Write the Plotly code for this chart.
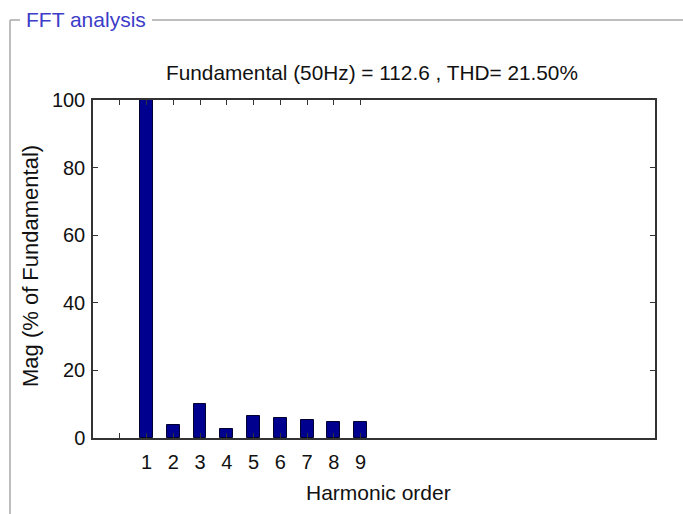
import plotly.graph_objects as go

# Data
harmonic_order = [1, 2, 3, 4, 5, 6, 7, 8, 9]
magnitude_pct = [100, 3.8, 10.0, 2.8, 6.5, 5.9, 5.4, 4.7, 4.7]
x_tick_vals = [0, 1, 2, 3, 4, 5, 6, 7, 8, 9]
x_tick_text = ["", "1", "2", "3", "4", "5", "6", "7", "8", "9"]
y_tick_vals = [0, 20, 40, 60, 80, 100]

W, H = 683, 514
L, R, T, B = 93, 655, 100, 438
FONT = "Liberation Sans, Arial, sans-serif"
TXT = "#111111"

def px(x):
    return (x - L) / (R - L)

def py(y):
    return (B - y) / (B - T)

fig = go.Figure()
fig.add_trace(go.Bar(
    x=harmonic_order, y=magnitude_pct, width=0.48,
    marker=dict(color="#00008f", line=dict(color="#000030", width=1)),
))

fig.update_layout(
    width=W, height=H,
    margin=dict(l=L, r=W - R, t=T, b=H - B, pad=0),
    paper_bgcolor="white", plot_bgcolor="white",
    showlegend=False, bargap=0,
    font=dict(family=FONT, color=TXT),
)
fig.update_xaxes(
    range=[-1, 20], tickmode="array", tickvals=x_tick_vals, ticktext=x_tick_text,
    ticks="inside", ticklen=5, tickcolor="#333", showline=True, linecolor="#333",
    linewidth=1.5, mirror="ticks", showgrid=False, zeroline=False,
    tickfont=dict(size=20, family=FONT, color=TXT), ticklabelstandoff=5,
)
fig.update_yaxes(
    range=[0, 100], tickmode="array", tickvals=y_tick_vals,
    ticks="inside", ticklen=5, tickcolor="#333", showline=True, linecolor="#333",
    linewidth=1.5, mirror="ticks", showgrid=False, zeroline=False,
    tickfont=dict(size=20, family=FONT, color=TXT), ticklabelstandoff=2,
)

ann = [
    dict(text="Fundamental (50Hz) = 112.6 , THD= 21.50%", x=px(372), y=py(72),
         font=dict(size=20.8, family=FONT, color=TXT)),
    dict(text="Harmonic order", x=px(378), y=py(492),
         font=dict(size=21, family=FONT, color=TXT)),
    dict(text="Mag (% of Fundamental)", x=px(30), y=py(266), textangle=-90,
         font=dict(size=22, family=FONT, color=TXT)),
    dict(text="FFT analysis", x=px(86), y=py(20),
         font=dict(size=21, family=FONT, color="#3c3cc8")),
]
for a in ann:
    fig.add_annotation(xref="paper", yref="paper", showarrow=False,
                       xanchor="center", yanchor="middle", **a)

# panel frame (etched border)
frame = [
    (10, 20, 20, 20), (152, 20, 683, 20), (10, 20, 10, 514),
]
for x0, y0, x1, y1 in frame:
    fig.add_shape(type="line", xref="paper", yref="paper",
                  x0=px(x0), y0=py(y0), x1=px(x1), y1=py(y1),
                  line=dict(color="#a8a8a8", width=1.5))

fig.write_html("out.html", config={"displayModeBar": False},
               post_script="document.body.style.margin='0';document.body.style.overflow='hidden';")
